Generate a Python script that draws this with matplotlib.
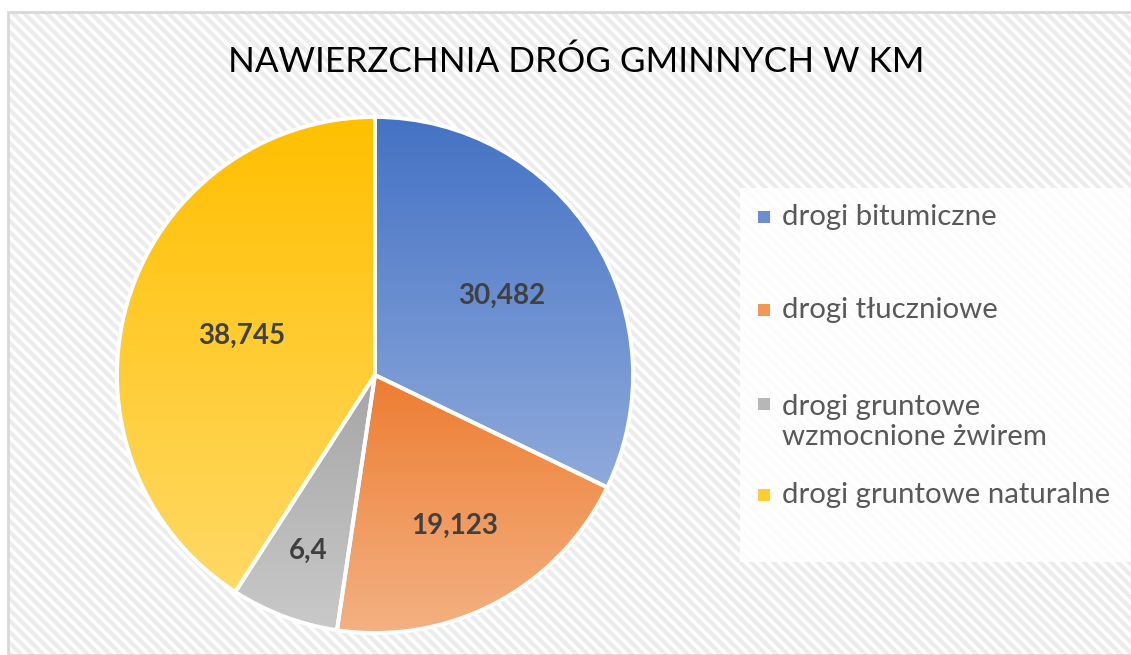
"""
Nawierzchnia dróg gminnych w km - wykres kołowy z gradientem.
"""
import matplotlib
matplotlib.use("Agg")
import matplotlib.pyplot as plt
import numpy as np
from matplotlib.colors import LinearSegmentedColormap
from matplotlib.patches import Rectangle

CATEGORIES = [
    "drogi bitumiczne",
    "drogi tłuczniowe",
    "drogi gruntowe wzmocnione żwirem",
    "drogi gruntowe naturalne",
]
LEGEND_LABELS = [
    "drogi bitumiczne",
    "drogi tłuczniowe",
    "drogi gruntowe\nwzmocnione żwirem",
    "drogi gruntowe naturalne",
]
VALUES = [30.482, 19.123, 6.4, 38.745]
VALUE_LABELS = ["30,482", "19,123", "6,4", "38,745"]

# (góra, dół) gradientu każdego wycinka
COLORS_TOP = ["#4472C4", "#ED7D31", "#A5A5A5", "#FFC000"]
COLORS_BOTTOM = ["#8FAADC", "#F4B183", "#C9C9C9", "#FFD966"]
LABEL_RADIUS = [0.58, 0.66, 0.73, 0.54]

plt.rcParams["font.family"] = ["Lato", "DejaVu Sans"]
plt.rcParams["hatch.linewidth"] = 3.0
plt.rcParams["hatch.color"] = "#ececec"

W, H = 1131, 655
fig = plt.figure(figsize=(W / 100, H / 100), dpi=100)
fig.patch.set_facecolor("white")

# tło wykresu: ramka + ukośne paski
bg = Rectangle((8 / W, 0), 1 - 8 / W, 1 - 12 / H, transform=fig.transFigure,
               facecolor="white", edgecolor="#ececec", hatch="\\\\\\", linewidth=0,
               zorder=-2)
fig.patches.append(bg)
border = Rectangle((8 / W, 0), 1 - 8 / W + 0.01, 1 - 12 / H, transform=fig.transFigure,
                   facecolor="none", edgecolor="#d9d9d9", linewidth=2, zorder=-1)
fig.patches.append(border)

fig.text(576 / W, 1 - 62 / H, "NAWIERZCHNIA DRÓG GMINNYCH W KM", ha="center",
         va="center", fontsize=25.3, color="black")

# legenda (ręcznie, żeby odtworzyć rozstaw Excela)
leg_bg = Rectangle((740 / W, 1 - 562 / H), 1 - 740 / W, (562 - 188) / H,
                   transform=fig.transFigure, facecolor="white", alpha=0.85,
                   edgecolor="none", zorder=2)
fig.patches.append(leg_bg)
legend_y = [217, 310, 422, 495]
for lab, c_top, c_bot, y in zip(LEGEND_LABELS, COLORS_TOP, COLORS_BOTTOM, legend_y):
    first_y = y if "\n" not in lab else y - 18
    mid = tuple((np.array(matplotlib.colors.to_rgb(c_top)) +
                 np.array(matplotlib.colors.to_rgb(c_bot))) / 2)
    fig.patches.append(Rectangle((758 / W, 1 - (first_y + 6) / H), 12 / W, 12 / H,
                                 transform=fig.transFigure, facecolor=mid,
                                 edgecolor="none", zorder=3))
    fig.text(782 / W, 1 - y / H, lab, ha="left", va="center", fontsize=21.2,
             color="#595959", linespacing=1.2, zorder=4)

# wykres kołowy
R = 258
ax = fig.add_axes([(375 - R) / W, (H - 375 - R) / H, 2 * R / W, 2 * R / H])
ax.set_zorder(1)

wedges, _ = ax.pie(VALUES, startangle=90, counterclock=False, radius=1,
                   wedgeprops=dict(edgecolor="white", linewidth=2.8))

for w, c_top, c_bot, lab, rf in zip(wedges, COLORS_TOP, COLORS_BOTTOM, VALUE_LABELS,
                                    LABEL_RADIUS):
    w.set_facecolor("none")
    ext = w.get_path().get_extents()
    cmap = LinearSegmentedColormap.from_list("g", [c_top, c_bot])
    grad = np.linspace(0, 1, 256).reshape(-1, 1)
    im = ax.imshow(grad, cmap=cmap, aspect="auto", origin="upper",
                   extent=[ext.x0, ext.x1, ext.y0, ext.y1], zorder=1)
    im.set_clip_path(w)
    w.set_zorder(2)
    ang = np.deg2rad((w.theta1 + w.theta2) / 2)
    ax.text(rf * np.cos(ang), rf * np.sin(ang), lab, ha="center", va="center",
            fontsize=20, fontweight="bold", color="#404040", zorder=3)

ax.set_xlim(-1, 1)
ax.set_ylim(-1, 1)
ax.set_aspect("equal")
ax.axis("off")

fig.savefig("out.png", dpi=100)
